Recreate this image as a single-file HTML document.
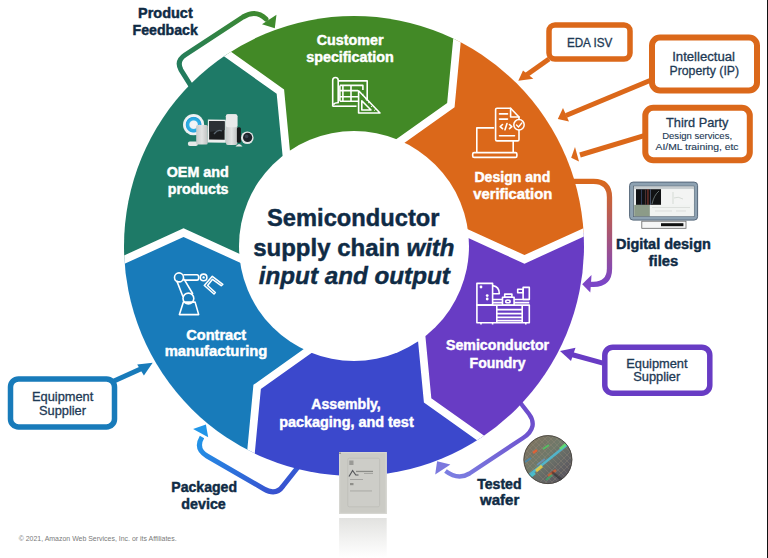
<!DOCTYPE html>
<html><head><meta charset="utf-8"><style>
html,body{margin:0;padding:0;background:#fff;width:768px;height:558px;overflow:hidden}
svg{display:block}
text{font-family:"Liberation Sans",sans-serif}
</style></head><body>
<svg width="768" height="558" viewBox="0 0 768 558">
<defs>
<linearGradient id="gFeed" x1="0" y1="1" x2="1" y2="0">
 <stop offset="0" stop-color="#1f7a63"/><stop offset="1" stop-color="#3f8a2e"/>
</linearGradient>
<linearGradient id="gDig" x1="0" y1="0" x2="0" y2="1">
 <stop offset="0" stop-color="#d9681c"/><stop offset="1" stop-color="#7a45c8"/>
</linearGradient>
<linearGradient id="gPkg" x1="1" y1="1" x2="0" y2="0">
 <stop offset="0" stop-color="#3b48cc"/><stop offset="1" stop-color="#2196e8"/>
</linearGradient>
<linearGradient id="gWaf" x1="1" y1="0" x2="0" y2="1">
 <stop offset="0" stop-color="#6a44c8"/><stop offset="1" stop-color="#7c80e2"/>
</linearGradient>
</defs>
<rect width="768" height="558" fill="#fff"/>

<path d="M191 86 L181 70 Q176 61 185 55 L243 17 Q256 9 266 19" fill="none" stroke="url(#gFeed)" stroke-width="5" stroke-linecap="round"/>
<polygon points="274.80,28.20 262.00,24.20 276.50,14.80" fill="#3f8a2e"/>
<path d="M570 181.3 L593.5 181.3 Q609.5 181.3 609.5 197.3 L609.5 268.5 Q609.5 284.3 593.5 284.3 L588 284.3" fill="none" stroke="url(#gDig)" stroke-width="5.3"/>
<polygon points="582.20,284.30 591.50,275.00 590.30,292.50" fill="#7d45c6"/>
<path d="M302 462 L283 486 Q276 496 264 489 L207 456 Q195 449 202 437" fill="none" stroke="url(#gPkg)" stroke-width="5"/>
<polygon points="205.90,424.50 193.10,429.10 208.20,437.30" fill="#2196e8"/>
<path d="M512 392 L529 414 Q533.5 420 532.5 426 Q531 433 523 438 L469.5 473.5 Q458 480.5 445.5 471" fill="none" stroke="url(#gWaf)" stroke-width="4.4"/>
<polygon points="437.10,461.30 450.40,464.50 435.20,474.60" fill="#7b78de"/>


<clipPath id="outer"><circle cx="354.0" cy="246.0" r="230.0"/></clipPath>
<g clip-path="url(#outer)">
<path d="M354.00,246.00 L445.90,223.52 L524.47,259.42 L619.07,216.13 L698.39,225.54 L691.95,315.37 L662.48,400.48 L611.99,475.05 L543.92,534.02 L512.41,460.62 L427.62,400.34 L419.41,314.35 Z" fill="#683cc4"/><path d="M354.00,246.00 L419.41,314.35 L427.62,400.34 L512.41,460.62 L543.92,534.02 L462.90,573.36 L374.46,590.39 L284.63,583.95 L199.52,554.48 L247.34,490.49 L257.14,386.93 L327.51,336.82 Z" fill="#3b48cc"/><path d="M354.00,246.00 L327.51,336.82 L257.14,386.93 L247.34,490.49 L199.52,554.48 L124.95,503.99 L65.98,435.92 L26.64,354.90 L9.61,266.46 L88.93,275.87 L183.53,232.58 L262.10,268.48 Z" fill="#187bba"/><path d="M354.00,246.00 L262.10,268.48 L183.53,232.58 L88.93,275.87 L9.61,266.46 L16.05,176.63 L45.52,91.52 L96.01,16.95 L164.08,-42.02 L195.59,31.38 L280.38,91.66 L288.59,177.65 Z" fill="#1e7a67"/><path d="M354.00,246.00 L288.59,177.65 L280.38,91.66 L195.59,31.38 L164.08,-42.02 L245.10,-81.36 L333.54,-98.39 L423.37,-91.95 L508.48,-62.48 L460.66,1.51 L450.86,105.07 L380.49,155.18 Z" fill="#428926"/><path d="M354.00,246.00 L380.49,155.18 L450.86,105.07 L460.66,1.51 L508.48,-62.48 L583.05,-11.99 L642.02,56.08 L681.36,137.10 L698.39,225.54 L619.07,216.13 L524.47,259.42 L445.90,223.52 Z" fill="#db681a"/>
<polyline points="445.90,223.52 524.47,259.42 619.07,216.13" fill="none" stroke="#fff" stroke-width="7.8" stroke-linejoin="miter"/><polyline points="419.41,314.35 427.62,400.34 512.41,460.62" fill="none" stroke="#fff" stroke-width="7.8" stroke-linejoin="miter"/><polyline points="327.51,336.82 257.14,386.93 247.34,490.49" fill="none" stroke="#fff" stroke-width="7.8" stroke-linejoin="miter"/><polyline points="262.10,268.48 183.53,232.58 88.93,275.87" fill="none" stroke="#fff" stroke-width="7.8" stroke-linejoin="miter"/><polyline points="288.59,177.65 280.38,91.66 195.59,31.38" fill="none" stroke="#fff" stroke-width="7.8" stroke-linejoin="miter"/><polyline points="380.49,155.18 450.86,105.07 460.66,1.51" fill="none" stroke="#fff" stroke-width="7.8" stroke-linejoin="miter"/>
</g>
<circle cx="354.0" cy="246.0" r="115.0" fill="#fff"/>


<rect x="549" y="25" width="81" height="34" rx="6" fill="#fff" stroke="#db681a" stroke-width="5.5"/>
<rect x="652" y="37.5" width="105" height="53" rx="8" fill="#fff" stroke="#db681a" stroke-width="6"/>
<rect x="645.3" y="107.7" width="104.5" height="52.6" rx="8" fill="#fff" stroke="#db681a" stroke-width="6"/>
<rect x="604.8" y="347.2" width="105" height="46" rx="8" fill="#fff" stroke="#683cc4" stroke-width="5.5"/>
<rect x="10.5" y="378.9" width="104" height="48" rx="8" fill="#fff" stroke="#187bba" stroke-width="5.5"/>


<line x1="549" y1="59" x2="525" y2="76" stroke="#db681a" stroke-width="5"/>
<polygon points="518.30,80.80 523.00,70.40 533.30,78.75" fill="#db681a"/>
<line x1="650" y1="80.5" x2="566" y2="115.5" stroke="#db681a" stroke-width="5"/>
<polygon points="557.80,119.00 563.00,108.00 569.00,121.50" fill="#db681a"/>
<line x1="645" y1="135.4" x2="580" y2="155" stroke="#db681a" stroke-width="5"/>
<polygon points="571.20,157.70 575.00,147.00 579.00,161.50" fill="#db681a"/>
<line x1="603" y1="363.2" x2="568" y2="353.5" stroke="#683cc4" stroke-width="5"/>
<polygon points="560.00,351.00 575.50,347.70 571.00,361.00" fill="#683cc4"/>
<line x1="114" y1="381" x2="145" y2="367" stroke="#187bba" stroke-width="5"/>
<polygon points="152.70,362.80 137.20,364.40 143.90,375.50" fill="#187bba"/>


<g fill="none" stroke="#fff" stroke-width="1.6" stroke-linejoin="round">
 <path d="M338.2 80.9 L367.2 80.9 L367.2 101"/>
 <path d="M332.7 106.5 L332.7 80.2 Q332.7 77.5 335.45 77.5 Q338.2 77.5 338.2 80.2 L338.2 102.8 Q335 102.5 333.5 104.5"/>
 <path d="M332.7 106.2 L356.5 106.2"/>
 <path d="M339.9 85.4 L362.9 85.4 L362.9 90"/>
 <path d="M339.9 90.6 L358 90.6 M339.9 96.7 L358 96.7 M339.9 101.3 L358 101.3"/>
 <path d="M339.9 85.4 L339.9 101.3 M342.9 85.4 L342.9 101.3 M351 85.4 L351 101.3"/>
 <path d="M358.6 90.8 L358.6 113 L380 113 Z"/>
 <path d="M361.8 100.8 L361.8 110 L371 110 Z"/>
</g>
<g stroke="#fff" stroke-width="0.9">
 <path d="M362 95.5 L363.5 94.2 M365 99.3 L366.5 98 M368 103.1 L369.5 101.8 M371 106.9 L372.5 105.6 M374 110.7 L375.5 109.4"/>
</g>

<g fill="none" stroke="#fff" stroke-width="1.6" stroke-linejoin="round" stroke-linecap="round">
 <path d="M493.5 127.9 L476.8 127.9 L476.8 152 M513.2 141.5 L513.2 152"/>
 <rect x="472.7" y="152.6" width="44.2" height="4.8" rx="1.5"/>
 <path d="M497 108.2 L510.6 108.2 L519 117 L519 139.5 Q519 140.9 517.6 140.9 L497 140.9 Q495.6 140.9 495.6 139.5 L495.6 109.6 Q495.6 108.2 497 108.2 Z"/>
 <path d="M510.6 108.2 L510.6 117 L519 117"/>
 <path d="M499.5 113.9 L507.5 113.9 M499.5 119.1 L507.5 119.1 M499.5 135.7 L514.5 135.7"/>
 <path d="M502.5 124.5 L500.2 126.6 L502.5 128.7 M509.5 124.5 L511.8 126.6 L509.5 128.7 M507 123.5 L505 129.8"/>
</g>
<circle cx="519" cy="124.8" r="5.2" fill="#db681a" stroke="#fff" stroke-width="1.5"/>
<path d="M516.5 125 L518.5 127 L521.8 123" fill="none" stroke="#fff" stroke-width="1.3" stroke-linecap="round"/>

<g fill="none" stroke="#fff" stroke-width="1.6" stroke-linejoin="round">
 <rect x="476.9" y="283.4" width="15.7" height="21.6"/>
 <rect x="476.9" y="305.1" width="52.4" height="17.7"/>
 <path d="M492.8 285.6 Q499.3 286.5 499.3 293.7 L492.8 293.7"/>
 <path d="M492.6 299.5 L502.5 299.5 M514.1 299.5 L529.3 299.5 M492.6 302.6 L502.5 302.6 M514.1 302.6 L529.3 302.6"/>
 <rect x="502.5" y="297.3" width="11.6" height="8"/>
 <rect x="504.7" y="294.1" width="7.2" height="3.2"/>
 <ellipse cx="507.9" cy="301.4" rx="2.2" ry="1.4"/>
 <rect x="523.1" y="287.4" width="6.2" height="12.1"/>
 <rect x="517.7" y="289.2" width="5.4" height="3.6"/>
 <path d="M496.8 305.1 L496.8 322.8 M522.2 305.1 L522.2 322.8"/>
 <path d="M496.8 309.6 L522.2 309.6 M496.8 313.6 L522.2 313.6 M496.8 317.4 L522.2 317.4 M496.8 320.6 L522.2 320.6"/>
</g>
<g fill="#fff">
 <circle cx="481" cy="287" r="1.4"/>
 <circle cx="487.2" cy="295.6" r="1.4"/>
 <circle cx="487.2" cy="299" r="1.4"/>
 <rect x="480.2" y="322.5" width="1.6" height="2"/>
 <rect x="491.8" y="322.5" width="1.6" height="2"/>
 <rect x="525" y="322.5" width="1.6" height="2"/>
</g>

<g fill="none" stroke="#fff" stroke-width="1.6" stroke-linejoin="round">
 <path d="M179.4 314.6 L198.7 314.6 L195.1 302.1 L183.4 302.1 Z"/>
 <circle cx="188.4" cy="298.5" r="5.4"/>
 <path d="M176.7 280.6 L183 296.7 M183.9 278.8 L192.9 294"/>
 <circle cx="179" cy="277.4" r="4.5"/>
 <path d="M183.4 274.7 L197 274.7 Q198.7 274.7 198.7 277.4 Q198.7 280.1 197 280.1 L183.4 280.1"/>
 <circle cx="203.6" cy="277.4" r="3.3"/>
 <path d="M204.3 285.5 L212.3 276.3 L222.8 284.3 L221.2 285.6 L212.5 279.3 L207.6 285.5 L215.3 292.5 L214 294 Z"/>
</g>
<circle cx="203.6" cy="277.4" r="1.2" fill="#fff"/>

<radialGradient id="gEchoPlus" cx="0.5" cy="0.5" r="0.5">
 <stop offset="0" stop-color="#f4f7f8"/><stop offset="0.35" stop-color="#eef3f5"/><stop offset="0.45" stop-color="#2fb0e6"/><stop offset="0.7" stop-color="#2aa3dc"/><stop offset="0.78" stop-color="#f2f5f6"/><stop offset="1" stop-color="#e8ecee"/>
</radialGradient>
<circle cx="193.6" cy="124.7" r="10.6" fill="url(#gEchoPlus)"/>
<path d="M197.5 130 Q200 128 200.5 125" stroke="#eef3f5" stroke-width="3" fill="none"/>
<rect x="187.9" y="141.6" width="10" height="4.4" rx="2" fill="#e6e8e8"/>
<linearGradient id="gCyl" x1="0" y1="0" x2="1" y2="0">
 <stop offset="0" stop-color="#c9cbcb"/><stop offset="0.5" stop-color="#e2e3e3"/><stop offset="1" stop-color="#bfc1c1"/>
</linearGradient>
<rect x="196.2" y="125" width="11.5" height="19.5" rx="1.5" fill="url(#gCyl)"/>
<path d="M207.9 119.5 L225.8 119.8 L225.8 142.8 L207.6 142.6 Z" fill="#eeeeee"/>
<path d="M209.2 121 L224.6 121.3 L224.6 139.8 L209.1 139.6 Z" fill="#1a1c1e"/>
<path d="M209.2 121 L224.6 121.3 L224.6 130 L209.1 132 Z" fill="#2c3136"/>
<path d="M214 134 Q218 129 222 131" stroke="#5a6670" stroke-width="1.3" fill="none"/>
<rect x="225.9" y="114.3" width="11.5" height="30.7" rx="2" fill="url(#gCyl)"/>
<rect x="225.9" y="114.3" width="11.5" height="13" rx="2" fill="#e9eaea"/>
<rect x="236.9" y="127.3" width="4" height="15.5" rx="1.5" fill="#18191a"/>
<path d="M235.5 146.5 Q239 141.5 242.5 146.5 Z" fill="#e8e8e8"/>
<circle cx="247.3" cy="137.7" r="6.3" fill="#e4e6e6"/>
<circle cx="247.6" cy="137.4" r="4.6" fill="#1e232a"/>
<circle cx="246.6" cy="136.4" r="1.8" fill="#3a4450"/>

<rect x="629.6" y="182.1" width="68" height="38" rx="3.5" fill="#8ea2b2" stroke="#55677a" stroke-width="1"/>
<rect x="633.6" y="186.1" width="60.5" height="30.5" fill="#e9ecec" stroke="#5d6c78" stroke-width="0.8"/>
<rect x="634" y="186.5" width="60" height="2.4" fill="#c6cccf"/>
<rect x="636" y="189.2" width="25.1" height="15.7" fill="#111214"/>
<rect x="641" y="189.2" width="0.8" height="15.7" fill="#3a4a6a"/>
<rect x="645" y="189.2" width="0.8" height="15.7" fill="#5a3a3a"/>
<rect x="647.5" y="189.2" width="0.9" height="15.7" fill="#a04030"/>
<rect x="650" y="189.2" width="0.8" height="15.7" fill="#50607a"/>
<path d="M652 204 Q654 195 659 191" stroke="#9aa" stroke-width="0.6" fill="none"/>
<rect x="634.2" y="204.9" width="15.7" height="11.3" fill="#8c9b88"/>
<rect x="649.9" y="204.9" width="44" height="11.3" fill="#f1f3f1"/>
<rect x="661.1" y="189.2" width="32.8" height="15.7" fill="#f3f4f3"/>
<path d="M673 192 L673 204 M674 198 Q678 196 683 199" stroke="#c8d0c8" stroke-width="0.7" fill="none"/>
<path d="M652 207.5 L690 207.5 M655 211 L672 211 M676 211 L686 211" stroke="#d2d6d2" stroke-width="0.7"/>
<rect x="641.8" y="221.2" width="44.2" height="7.1" fill="#f6f6f6" stroke="#666" stroke-width="0.8"/>
<rect x="661" y="223.2" width="22.4" height="3" fill="#111"/>

<linearGradient id="gRefl" x1="0" y1="0" x2="0" y2="1">
 <stop offset="0" stop-color="#e2e2e0"/><stop offset="0.6" stop-color="#f4f4f3"/><stop offset="1" stop-color="#ffffff"/>
</linearGradient>
<rect x="339.1" y="518" width="47.6" height="40" fill="url(#gRefl)"/>
<rect x="339.1" y="452.1" width="47.6" height="61.8" fill="#cbcbc5"/>
<rect x="339.6" y="452.6" width="46.6" height="60.8" fill="none" stroke="#d6d6d1" stroke-width="1.2"/>
<rect x="347.8" y="458.2" width="31.8" height="48.6" rx="1.5" fill="#cdcdc8" stroke="#bcbcb6" stroke-width="0.7"/>
<rect x="349.3" y="460.5" width="4.2" height="4.5" fill="#9a9a96"/>
<path d="M349 476.5 L352.6 470.5 L355.8 475 L358.5 475" fill="none" stroke="#55575a" stroke-width="1.2"/>
<rect x="356" y="470.8" width="17" height="1.3" fill="#8a8b87"/>
<rect x="364" y="473" width="9" height="0.9" fill="#a2a29e"/>
<rect x="350" y="479" width="13" height="0.9" fill="#a0a09c"/>
<rect x="350" y="483" width="3.5" height="2.2" fill="#8f8f8a"/>
<rect x="350" y="490.5" width="22" height="0.9" fill="#a5a5a0"/>
<rect x="339.4" y="452.6" width="1.2" height="1.2" fill="#555"/>

<clipPath id="cWaf"><circle cx="547.9" cy="459.6" r="24.3"/></clipPath>
<linearGradient id="gWaferBase" x1="0" y1="0" x2="1" y2="1">
 <stop offset="0" stop-color="#86705a"/><stop offset="0.45" stop-color="#707a6c"/><stop offset="0.75" stop-color="#5e5c62"/><stop offset="1" stop-color="#46444c"/>
</linearGradient>
<g clip-path="url(#cWaf)">
 <rect x="520" y="432" width="56" height="56" fill="url(#gWaferBase)"/>
 <g stroke="#9a8e7c" stroke-width="0.6" opacity="0.55">
  <path d="M512 448 L552 488 M512 442 L558 488 M512 436 L564 488 M514 432 L570 488 M520 432 L576 488 M526 432 L576 482 M532 432 L576 476 M538 432 L576 470 M544 432 L576 464 M550 432 L576 458"/>
  <path d="M520 470 L558 432 M520 476 L564 432 M522 480 L570 432 M528 480 L576 432 M534 488 L576 446 M540 488 L576 452 M546 488 L576 458 M520 464 L552 432 M520 458 L546 432"/>
 </g>
 <path d="M528 476 L568 444" stroke="#48c8e8" stroke-width="2.6" opacity="0.75"/>
 <path d="M560 449 L566 444" stroke="#60e070" stroke-width="2.6" opacity="0.9"/>
 <path d="M536 471 L542 466" stroke="#f0d040" stroke-width="3" opacity="0.85"/>
 <path d="M529 478 L535 473" stroke="#40d0e0" stroke-width="2.5" opacity="0.8"/>
 <path d="M533 453 L537 450" stroke="#f06030" stroke-width="2.4" opacity="0.85"/>
 <path d="M543 449 L549 445" stroke="#50d060" stroke-width="2" opacity="0.8"/>
 <path d="M537 465 L545 459" stroke="#60a0e0" stroke-width="1.6" opacity="0.6"/>
 <path d="M548 476 L556 470" stroke="#e06030" stroke-width="2.6" opacity="0.75"/>
 <path d="M546 480 L552 475" stroke="#30c070" stroke-width="1.8" opacity="0.6"/>
 <path d="M552 472 L562 480" stroke="#202024" stroke-width="2.5" opacity="0.5"/>
 <path d="M525 462 L531 458" stroke="#3090d0" stroke-width="2" opacity="0.6"/>
</g>
<circle cx="547.9" cy="459.6" r="24" fill="none" stroke="#4a4540" stroke-width="0.9"/>

<text x="316.8" y="44.6" font-size="14" font-weight="bold" font-style="normal" fill="#ffffff" stroke="#ffffff" stroke-width="0.45" textLength="66.7" lengthAdjust="spacingAndGlyphs">Customer</text><text x="306.2" y="62.0" font-size="14" font-weight="bold" font-style="normal" fill="#ffffff" stroke="#ffffff" stroke-width="0.45" textLength="87.6" lengthAdjust="spacingAndGlyphs">specification</text><text x="474.4" y="182.2" font-size="14" font-weight="bold" font-style="normal" fill="#ffffff" stroke="#ffffff" stroke-width="0.45" textLength="75.9" lengthAdjust="spacingAndGlyphs">Design and</text><text x="473.2" y="198.5" font-size="14" font-weight="bold" font-style="normal" fill="#ffffff" stroke="#ffffff" stroke-width="0.45" textLength="79.1" lengthAdjust="spacingAndGlyphs">verification</text><text x="446.0" y="349.9" font-size="14" font-weight="bold" font-style="normal" fill="#ffffff" stroke="#ffffff" stroke-width="0.45" textLength="103.1" lengthAdjust="spacingAndGlyphs">Semiconductor</text><text x="469.6" y="367.6" font-size="14" font-weight="bold" font-style="normal" fill="#ffffff" stroke="#ffffff" stroke-width="0.45" textLength="55.9" lengthAdjust="spacingAndGlyphs">Foundry</text><text x="311.3" y="408.6" font-size="14" font-weight="bold" font-style="normal" fill="#ffffff" stroke="#ffffff" stroke-width="0.45" textLength="69.5" lengthAdjust="spacingAndGlyphs">Assembly,</text><text x="279.2" y="426.6" font-size="14" font-weight="bold" font-style="normal" fill="#ffffff" stroke="#ffffff" stroke-width="0.45" textLength="134.5" lengthAdjust="spacingAndGlyphs">packaging, and test</text><text x="186.3" y="339.5" font-size="14" font-weight="bold" font-style="normal" fill="#ffffff" stroke="#ffffff" stroke-width="0.45" textLength="59.8" lengthAdjust="spacingAndGlyphs">Contract</text><text x="164.7" y="356.0" font-size="14" font-weight="bold" font-style="normal" fill="#ffffff" stroke="#ffffff" stroke-width="0.45" textLength="102.6" lengthAdjust="spacingAndGlyphs">manufacturing</text><text x="166.7" y="176.7" font-size="14" font-weight="bold" font-style="normal" fill="#ffffff" stroke="#ffffff" stroke-width="0.45" textLength="62.1" lengthAdjust="spacingAndGlyphs">OEM and</text><text x="167.8" y="193.5" font-size="14" font-weight="bold" font-style="normal" fill="#ffffff" stroke="#ffffff" stroke-width="0.45" textLength="60.7" lengthAdjust="spacingAndGlyphs">products</text><text x="138.0" y="17.7" font-size="14" font-weight="bold" font-style="normal" fill="#0f2b45" stroke="#0f2b45" stroke-width="0.45" textLength="54.7" lengthAdjust="spacingAndGlyphs">Product</text><text x="132.5" y="35.0" font-size="14" font-weight="bold" font-style="normal" fill="#0f2b45" stroke="#0f2b45" stroke-width="0.45" textLength="65.3" lengthAdjust="spacingAndGlyphs">Feedback</text><text x="616.0" y="249.2" font-size="14" font-weight="bold" font-style="normal" fill="#0f2b45" stroke="#0f2b45" stroke-width="0.45" textLength="94.8" lengthAdjust="spacingAndGlyphs">Digital design</text><text x="648.6" y="266.0" font-size="14" font-weight="bold" font-style="normal" fill="#0f2b45" stroke="#0f2b45" stroke-width="0.45" textLength="29.6" lengthAdjust="spacingAndGlyphs">files</text><text x="171.3" y="491.5" font-size="14" font-weight="bold" font-style="normal" fill="#0f2b45" stroke="#0f2b45" stroke-width="0.45" textLength="65.7" lengthAdjust="spacingAndGlyphs">Packaged</text><text x="181.3" y="509.0" font-size="14" font-weight="bold" font-style="normal" fill="#0f2b45" stroke="#0f2b45" stroke-width="0.45" textLength="44.5" lengthAdjust="spacingAndGlyphs">device</text><text x="477.2" y="488.5" font-size="14" font-weight="bold" font-style="normal" fill="#0f2b45" stroke="#0f2b45" stroke-width="0.45" textLength="44.3" lengthAdjust="spacingAndGlyphs">Tested</text><text x="480.1" y="505.1" font-size="14" font-weight="bold" font-style="normal" fill="#0f2b45" stroke="#0f2b45" stroke-width="0.45" textLength="39.2" lengthAdjust="spacingAndGlyphs">wafer</text><text x="267.0" y="225.6" font-size="24.5" font-weight="bold" font-style="normal" fill="#0f2b45" stroke="#0f2b45" stroke-width="0.45" textLength="172.5" lengthAdjust="spacingAndGlyphs">Semiconductor</text><text x="253.2" y="255.7" font-size="24.5" font-weight="bold" font-style="normal" fill="#0f2b45" stroke="#0f2b45" stroke-width="0.45" textLength="201.3" lengthAdjust="spacingAndGlyphs">supply chain <tspan font-style="italic">with</tspan></text><text x="258.8" y="283.9" font-size="24.5" font-weight="bold" font-style="italic" fill="#0f2b45" stroke="#0f2b45" stroke-width="0.45" textLength="191.0" lengthAdjust="spacingAndGlyphs">input and output</text><text x="566.9" y="46.5" font-size="12" font-weight="normal" font-style="normal" fill="#1e3a55" stroke="#1e3a55" stroke-width="0.3" textLength="45.4" lengthAdjust="spacingAndGlyphs">EDA ISV</text><text x="672.2" y="61.3" font-size="12.3" font-weight="normal" font-style="normal" fill="#1e3a55" stroke="#1e3a55" stroke-width="0.3" textLength="62.8" lengthAdjust="spacingAndGlyphs">Intellectual</text><text x="669.5" y="75.0" font-size="12.3" font-weight="normal" font-style="normal" fill="#1e3a55" stroke="#1e3a55" stroke-width="0.3" textLength="69.6" lengthAdjust="spacingAndGlyphs">Property (IP)</text><text x="666.0" y="126.7" font-size="12.8" font-weight="normal" font-style="normal" fill="#1e3a55" stroke="#1e3a55" stroke-width="0.3" textLength="62.5" lengthAdjust="spacingAndGlyphs">Third Party</text><text x="662.2" y="138.8" font-size="9.3" font-weight="normal" font-style="normal" fill="#1e3a55" stroke="#1e3a55" stroke-width="0.12" textLength="69.9" lengthAdjust="spacingAndGlyphs">Design services,</text><text x="655.5" y="150.0" font-size="9.3" font-weight="normal" font-style="normal" fill="#1e3a55" stroke="#1e3a55" stroke-width="0.12" textLength="83.0" lengthAdjust="spacingAndGlyphs">AI/ML training, etc</text><text x="626.2" y="367.6" font-size="12.3" font-weight="normal" font-style="normal" fill="#1e3a55" stroke="#1e3a55" stroke-width="0.3" textLength="61.4" lengthAdjust="spacingAndGlyphs">Equipment</text><text x="633.2" y="381.4" font-size="12.3" font-weight="normal" font-style="normal" fill="#1e3a55" stroke="#1e3a55" stroke-width="0.3" textLength="47.1" lengthAdjust="spacingAndGlyphs">Supplier</text><text x="32.0" y="400.5" font-size="12.3" font-weight="normal" font-style="normal" fill="#1e3a55" stroke="#1e3a55" stroke-width="0.3" textLength="61.3" lengthAdjust="spacingAndGlyphs">Equipment</text><text x="39.0" y="414.6" font-size="12.3" font-weight="normal" font-style="normal" fill="#1e3a55" stroke="#1e3a55" stroke-width="0.3" textLength="47.0" lengthAdjust="spacingAndGlyphs">Supplier</text><text x="18.7" y="540.8" font-size="7.8" font-weight="normal" font-style="normal" fill="#7a7a7a" textLength="157.9" lengthAdjust="spacingAndGlyphs">© 2021, Amazon Web Services, Inc. or its Affiliates.</text>
<rect x="767" y="0" width="1" height="558" fill="#111"/>
</svg>
</body></html>
